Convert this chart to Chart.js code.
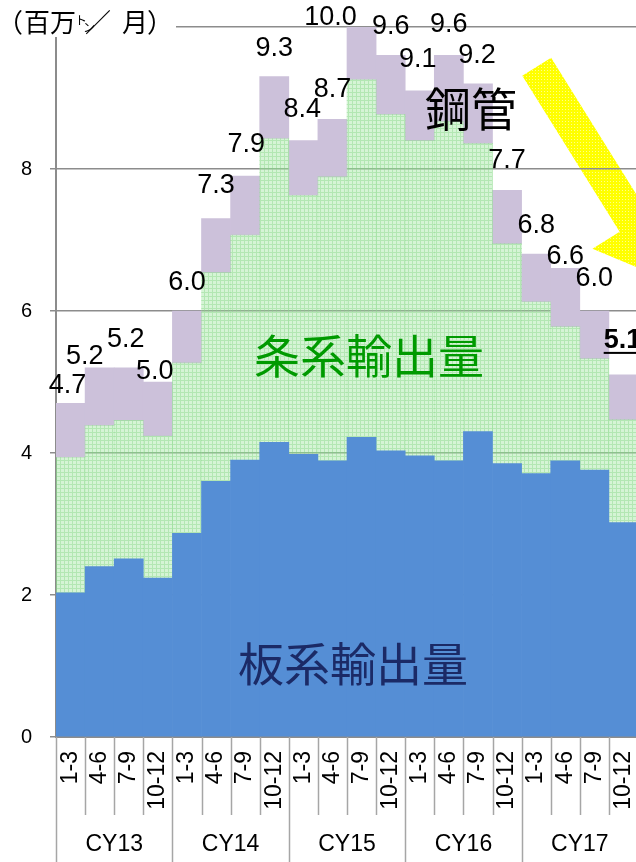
<!DOCTYPE html>
<html>
<head>
<meta charset="utf-8">
<script src="https://cdn.jsdelivr.net/npm/chart.js@4/dist/chart.umd.min.js"></script>
<style>
  html, body { margin: 0; padding: 0; background: #fff; overflow: hidden; }
  #wrap { width: 636px; height: 862px; overflow: hidden; position: relative; }
  canvas { display: block; }
</style>
</head>
<body>
<div id="wrap"><canvas id="c" width="638" height="862"></canvas></div>
<script>
// Quarterly exports, million tonnes per month
const years = ['CY13', 'CY14', 'CY15', 'CY16', 'CY17'];
const quarterNames = ['1-3', '4-6', '7-9', '10-12'];

// 板系 (flat products)
const plateExports = [2.03, 2.40, 2.51, 2.24, 2.87, 3.60, 3.90, 4.15, 3.98, 3.89,
                      4.22, 4.03, 3.96, 3.89, 4.30, 3.85, 3.71, 3.89, 3.76, 3.02];
// 条系 (long products)
const longExports  = [1.91, 1.99, 1.95, 2.00, 2.40, 2.94, 3.17, 4.28, 3.65, 4.00,
                      5.04, 4.74, 4.44, 4.78, 4.06, 3.10, 2.42, 1.89, 1.57, 1.45];
// 鋼管 (pipes and tubes)
const pipeExports  = [0.76, 0.81, 0.74, 0.76, 0.73, 0.76, 0.83, 0.87, 0.77, 0.81,
                      0.74, 0.83, 0.70, 0.93, 0.84, 0.75, 0.67, 0.82, 0.67, 0.63];

const yTicks = [0, 2, 4, 6, 8, 10];

// pixel nudges for the total labels (dx, dy from the bar top centre)
const labelNudge = [[-3,-20],[-15,-14],[-3,-31],[-3,-13],[0,-31],[0,-36],[1,-34],[0,-31],[-1,-34],[0,-32],
                    [-31,-12],[0,-31],[-2,-34],[0,-33],[-1,-31],[0,-32],[0,-31],[0,-14],[0,-35],[-1,-37]];

const categories = years.flatMap(y => quarterNames.map(q => y + ' ' + q));
const totals = plateExports.map((v, i) => Math.round((v + longExports[i] + pipeExports[i]) * 10) / 10);

const NUM_FONT = '"Liberation Sans", Arial, sans-serif';
const CJK_FONT = '"Noto Sans CJK JP", "Noto Sans CJK SC", sans-serif';
const AXIS_GREY = '#8c8c8c';

function makePattern(w, h, paint) {
  const t = document.createElement('canvas');
  t.width = w; t.height = h;
  paint(t.getContext('2d'));
  return document.getElementById('c').getContext('2d').createPattern(t, 'repeat');
}

// dotted light green fill for long products
const greenFill = makePattern(4, 4, g => {
  g.fillStyle = 'rgba(150,228,150,0.40)';
  g.fillRect(0, 0, 4, 4);
  g.fillStyle = 'rgba(140,215,140,0.46)';
  g.fillRect(0, 0, 4, 1);
  g.fillRect(0, 1, 1, 3);
});

// dotted yellow fill for the trend arrow
const yellowFill = makePattern(3, 3, g => {
  g.fillStyle = '#ffff00';
  g.fillRect(0, 0, 3, 3);
  g.fillStyle = '#ffff8a';
  g.fillRect(1, 1, 1, 1);
});

const backdrop = {
  id: 'backdrop',
  beforeDraw(chart) {
    const ctx = chart.ctx;
    ctx.save();
    ctx.fillStyle = '#fff';
    ctx.fillRect(0, 0, chart.width, chart.height);
    // downward trend arrow
    const c = [536.7, 66.7], d = [0.529, 0.848], n = [0.848, -0.529];
    const half = 17, barb = 49, headStart = 184, tipLen = 253;
    const P = (s, o) => [c[0] + d[0] * s + n[0] * o, c[1] + d[1] * s + n[1] * o];
    const pts = [P(0, -half), P(0, half), P(headStart, half), P(headStart, barb),
                 P(tipLen, 0), P(headStart, -barb), P(headStart, -half)];
    ctx.beginPath();
    pts.forEach((p, i) => i ? ctx.lineTo(p[0], p[1]) : ctx.moveTo(p[0], p[1]));
    ctx.closePath();
    ctx.fillStyle = yellowFill;
    ctx.fill();
    ctx.restore();
  }
};

const annotations = {
  id: 'annotations',
  afterDatasetsDraw(chart) {
    const ctx = chart.ctx;
    const xs = chart.scales.x, ys = chart.scales.y;
    const area = chart.chartArea;
    const slice = (area.right - area.left) / categories.length;
    ctx.save();

    // totals above each bar
    ctx.fillStyle = '#000';
    ctx.textAlign = 'center';
    ctx.textBaseline = 'alphabetic';
    totals.forEach((t, i) => {
      const last = i === totals.length - 1;
      ctx.font = (last ? 'bold ' : '') + '27px ' + NUM_FONT;
      const x = xs.getPixelForValue(i) + labelNudge[i][0];
      const y = ys.getPixelForValue(t) + labelNudge[i][1] + 10;
      const txt = t.toFixed(1);
      ctx.fillText(txt, x, y);
      if (last) {
        const w = ctx.measureText(txt).width;
        ctx.fillRect(x - w / 2, y + 4, w, 2);
      }
    });

    // product names inside the stacks
    ctx.textBaseline = 'middle';
    ctx.font = '46px ' + CJK_FONT;
    ctx.fillStyle = '#000';
    ctx.fillText('鋼管', 471, 109);
    ctx.fillStyle = '#009a00';
    ctx.fillText('条系輸出量', 369, 356);
    ctx.fillStyle = '#1b2a66';
    ctx.fillText('板系輸出量', 353, 664);

    // two-level category axis
    ctx.strokeStyle = '#a6a6a6';
    ctx.lineWidth = 1.5;
    for (let i = 0; i <= categories.length; i++) {
      const x = Math.round(area.left + slice * i) + 0.5;
      const yearEdge = i % quarterNames.length === 0;
      ctx.beginPath();
      ctx.moveTo(x, area.bottom);
      ctx.lineTo(x, yearEdge ? chart.height : 815);
      ctx.stroke();
    }
    ctx.fillStyle = '#000';
    ctx.font = '23px ' + NUM_FONT;
    categories.forEach((c, i) => {
      const x = xs.getPixelForValue(i);
      ctx.save();
      ctx.translate(x, 751);
      ctx.rotate(-Math.PI / 2);
      ctx.textAlign = 'right';
      ctx.textBaseline = 'middle';
      ctx.fillText(quarterNames[i % quarterNames.length], 0, 0);
      ctx.restore();
    });
    ctx.font = '23px ' + NUM_FONT;
    ctx.textAlign = 'center';
    ctx.textBaseline = 'middle';
    years.forEach((y, k) => {
      const x = area.left + slice * (k * 4 + 2);
      ctx.fillText(y, x, 845);
    });
    ctx.restore();
  },
  afterDraw(chart) {
    // unit caption in the top left corner
    const ctx = chart.ctx;
    ctx.save();
    ctx.fillStyle = '#fff';
    ctx.fillRect(0, 0, 176, 37);
    ctx.fillStyle = '#000';
    ctx.textBaseline = 'alphabetic';
    ctx.textAlign = 'left';
    ctx.font = '26px ' + CJK_FONT;
    ctx.fillText('（', -3, 32);
    ctx.fillText('百', 24, 32);
    ctx.fillText('万', 50, 32);
    ctx.font = '12px ' + CJK_FONT;
    ctx.fillText('ト', 75, 25);
    ctx.fillText('ン', 83, 32);
    ctx.font = '26px ' + CJK_FONT;
    ctx.fillText('／', 85, 32);
    ctx.fillText('月', 122, 32);
    ctx.fillText('）', 147, 32);
    ctx.restore();
  }
};

new Chart(document.getElementById('c'), {
  type: 'bar',
  data: {
    labels: categories,
    datasets: [
      { label: '板系輸出量', data: plateExports, backgroundColor: '#558ed5' },
      { label: '条系輸出量', data: longExports, backgroundColor: greenFill },
      { label: '鋼管', data: pipeExports, backgroundColor: '#ccc1da' }
    ]
  },
  options: {
    responsive: false,
    animation: false,
    events: [],
    layout: { padding: { top: 27, left: 0, right: 0, bottom: 0 } },
    datasets: { bar: { barPercentage: 1, categoryPercentage: 1, borderWidth: 0 } },
    plugins: { legend: { display: false }, tooltip: { enabled: false } },
    scales: {
      x: {
        stacked: true,
        grid: { display: false },
        ticks: { display: false },
        border: { display: true, color: AXIS_GREY, width: 2 },
        afterFit(s) { s.height = 125; s.paddingLeft = 0; s.paddingRight = 0; }
      },
      y: {
        stacked: true,
        min: yTicks[0],
        max: yTicks[yTicks.length - 1],
        afterBuildTicks(s) { s.ticks = yTicks.map(v => ({ value: v })); },
        ticks: {
          color: '#000',
          padding: 18,
          font: { family: NUM_FONT, size: 20 },
          callback: v => (v === yTicks[yTicks.length - 1] ? '' : String(v))
        },
        grid: { color: AXIS_GREY, lineWidth: 1.5, tickLength: 6 },
        border: { color: AXIS_GREY, width: 2 },
        afterFit(s) { s.width = 56; s.paddingTop = 0; s.paddingBottom = 0; }
      }
    }
  },
  plugins: [backdrop, annotations]
});
</script>
</body>
</html>
